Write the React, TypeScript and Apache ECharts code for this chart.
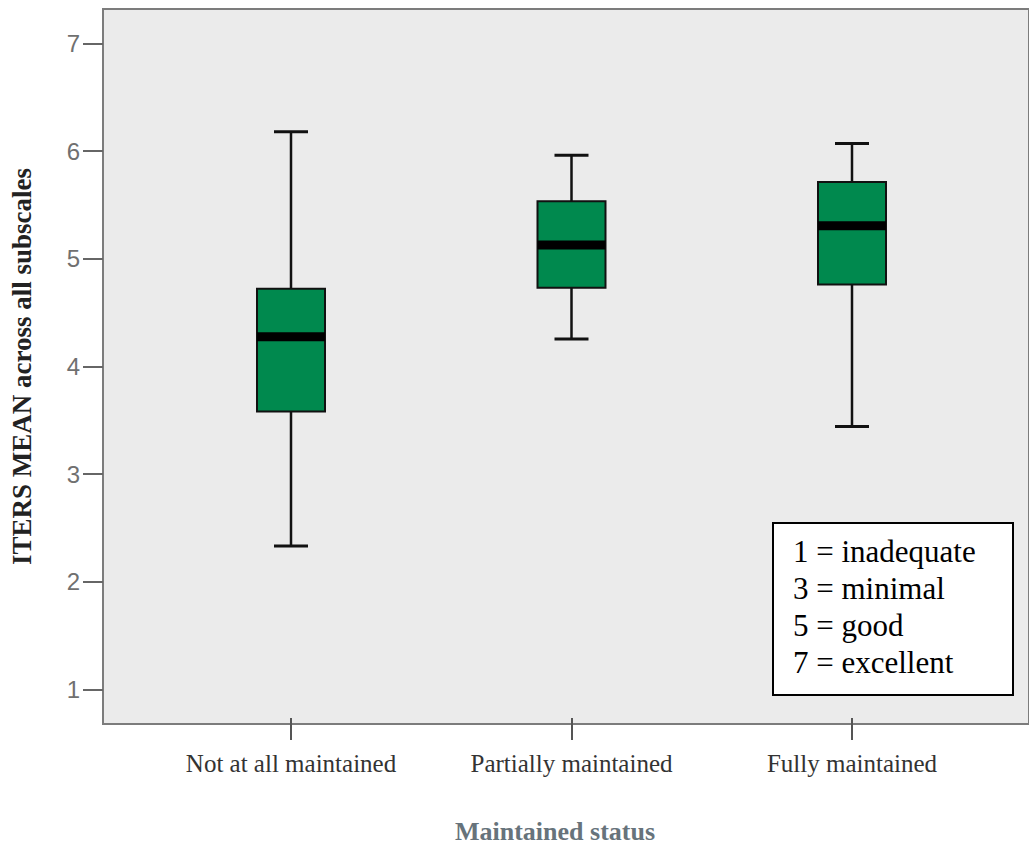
import React, { useEffect, useRef } from "react";
import * as echarts from "echarts";

const categories = ["Not at all maintained", "Partially maintained", "Fully maintained"];
const lowWhisker = [2.29, 4.23, 3.41];
const q1 = [3.55, 4.71, 4.74];
const median = [4.25, 5.11, 5.29];
const q3 = [4.7, 5.52, 5.7];
const highWhisker = [6.17, 5.95, 6.06];
const yTicks = [1, 2, 3, 4, 5, 6, 7];
const yMin = 0.68;
const yMax = 7.32;
const noteLines = ["1 = inadequate", "3 = minimal", "5 = good", "7 = excellent"];
const yTitle = "ITERS MEAN across all subscales";
const xTitle = "Maintained status";

const SERIF = "'Times New Roman', 'Liberation Serif', Times, serif";

export default function App() {
  const ref = useRef<HTMLDivElement>(null);
  useEffect(() => {
    if (!ref.current) return;
    const chart = echarts.init(ref.current, undefined, { renderer: "svg" });
    const data = categories.map((_, i) => [i, lowWhisker[i], q1[i], median[i], q3[i], highWhisker[i]]);
    const option: any = {
      animation: false,
      backgroundColor: "#ffffff",
      grid: [
        {
          left: 103, top: 9, right: -40, bottom: 125,
          show: true, backgroundColor: "#ebebeb", borderColor: "#7c7c7c", borderWidth: 2,
        },
        { left: 150.75, top: 9, width: 841.5, bottom: 125 },
      ],
      xAxis: [
        { type: "value", gridIndex: 0, min: 0, max: 1, show: false },
        {
          type: "category", gridIndex: 1, data: categories, boundaryGap: true,
          axisLine: { show: false },
          axisTick: { show: true, alignWithLabel: true, length: 22, lineStyle: { color: "#555", width: 2 } },
          axisLabel: { margin: 33, fontFamily: SERIF, fontSize: 25, color: "#333" },
          name: xTitle, nameLocation: "middle", nameGap: 100,
          nameTextStyle: { fontFamily: SERIF, fontWeight: "bold", fontSize: 26, color: "#67737b", padding: [0, 33, 0, 0] },
          splitLine: { show: false },
        },
      ],
      yAxis: [
        {
          type: "value", gridIndex: 0, min: yMin, max: yMax,
          axisLine: { show: true, lineStyle: { color: "#7c7c7c", width: 2 } },
          axisTick: { show: true, length: 20, customValues: yTicks, lineStyle: { color: "#666", width: 2 } },
          axisLabel: { customValues: yTicks, margin: 23, fontFamily: "Liberation Sans", fontSize: 24, color: "#707070" },
          splitLine: { show: false },
          name: yTitle, nameLocation: "middle", nameGap: 68, nameRotate: 90,
          nameTextStyle: { fontFamily: SERIF, fontWeight: "bold", fontSize: 27, color: "#222" },
        },
        { type: "value", gridIndex: 1, min: yMin, max: yMax, show: false },
      ],
      series: [
        {
          type: "custom",
          xAxisIndex: 1,
          yAxisIndex: 1,
          data,
          encode: { x: 0, y: [1, 2, 3, 4, 5] },
          renderItem: (params: any, api: any) => {
            const xi = api.value(0);
            const pLow = api.coord([xi, api.value(1)]);
            const pQ1 = api.coord([xi, api.value(2)]);
            const pMed = api.coord([xi, api.value(3)]);
            const pQ3 = api.coord([xi, api.value(4)]);
            const pHigh = api.coord([xi, api.value(5)]);
            const band = api.size([1, 0])[0];
            const bw = band * 0.2424;
            const cw = bw / 2;
            const cx = pMed[0];
            const stroke = "#111";
            return {
              type: "group",
              children: [
                { type: "line", shape: { x1: cx, y1: pHigh[1], x2: cx, y2: pLow[1] }, style: { stroke, lineWidth: 2.5 } },
                { type: "line", shape: { x1: cx - cw / 2, y1: pHigh[1], x2: cx + cw / 2, y2: pHigh[1] }, style: { stroke, lineWidth: 3 } },
                { type: "line", shape: { x1: cx - cw / 2, y1: pLow[1], x2: cx + cw / 2, y2: pLow[1] }, style: { stroke, lineWidth: 3 } },
                { type: "rect", shape: { x: cx - bw / 2, y: pQ3[1], width: bw, height: pQ1[1] - pQ3[1] }, style: { fill: "#00894e", stroke, lineWidth: 2 } },
                { type: "line", shape: { x1: cx - bw / 2, y1: pMed[1], x2: cx + bw / 2, y2: pMed[1] }, style: { stroke: "#000", lineWidth: 9 } },
              ],
            };
          },
        },
      ],
      graphic: [
        {
          type: "group",
          children: [
            { type: "rect", shape: { x: 773, y: 523, width: 240, height: 172 }, style: { fill: "#fff", stroke: "#000", lineWidth: 2 }, z: 10 },
            {
              type: "text", x: 793, y: 533, z: 11,
              style: { text: noteLines.join("\n"), fontFamily: SERIF, fontSize: 31, lineHeight: 37, fill: "#000", verticalAlign: "top", align: "left" },
            },
          ],
        },
      ],
    };
    chart.setOption(option);
    return () => chart.dispose();
  }, []);
  return <div ref={ref} style={{ position: "fixed", left: 0, top: 0, width: 1029, height: 849 }} />;
}
